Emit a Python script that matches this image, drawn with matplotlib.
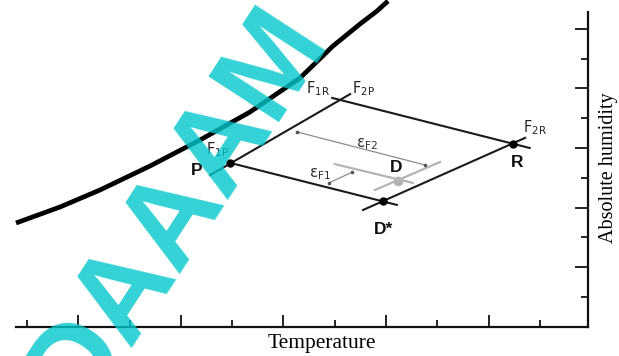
import matplotlib
matplotlib.use("Agg")
import matplotlib.pyplot as plt
import numpy as np

plt.rcParams['mathtext.fontset'] = 'custom'
plt.rcParams['mathtext.rm'] = 'Liberation Sans'
plt.rcParams['mathtext.it'] = 'Liberation Sans:italic'
plt.rcParams['mathtext.bf'] = 'Liberation Sans:bold'

# ---- data (arbitrary units: temperature t, absolute humidity h) ----
curve_t = [-0.214, 0.643, 1.423, 2.398, 3.372, 4.347, 5.322, 5.965, 6.491, 6.823, 7.037]
curve_h = [2.483, 3.020, 3.591, 4.396, 5.268, 6.208, 7.349, 8.423, 9.161, 9.597, 9.933]

# state points
point_names = ["P", "R", "D*"]
point_t = [3.96, 9.47, 6.94]
point_h = [4.50, 5.13, 3.22]
mix_t = [7.23]
mix_h = [3.89]

# process lines (start, end)
line_t = [[3.57, 6.30], [5.95, 9.80], [3.96, 7.21], [6.55, 9.71]]
line_h = [[4.09, 6.81], [6.68, 5.00], [4.50, 3.09], [2.92, 5.34]]

# grey construction lines through D
grey_t = [[6.00, 7.52], [6.78, 8.05]]
grey_h = [[4.46, 3.83], [3.59, 4.53]]

# dimension lines (epsilon F2, epsilon F1)
dim_t = [[5.26, 7.76], [5.89, 6.34]]
dim_h = [[5.54, 4.43], [3.83, 4.19]]

# tick positions
x_major = [1, 3, 5, 7, 9]
x_minor = [0, 2, 4, 6, 8, 10]
y_major = [1, 3, 5, 7, 9]
y_minor = [0, 2, 4, 6, 8]

# labels
small_labels = [r"$\mathregular{F_{1R}}$", r"$\mathregular{F_{2P}}$",
                r"$\mathregular{F_{2R}}$", r"$\mathregular{F_{1P}}$"]
small_t = [5.67, 6.55, 9.90, 3.72]
small_h = [6.98, 6.98, 5.67, 4.93]
big_labels = ["P", "R", "D", "D*"]
big_t = [3.31, 9.55, 7.19, 6.94]
big_h = [4.26, 4.53, 4.33, 2.28]
eps_labels = [r"$\mathregular{ε_{F2}}$", r"$\mathregular{ε_{F1}}$"]
eps_t = [6.63, 5.71]
eps_h = [5.13, 4.13]

watermark = "DAAAM"

# ---- figure ----
fig = plt.figure(figsize=(6.19, 3.56), dpi=100)
ax = fig.add_axes([0, 0, 1, 1])
ax.set_facecolor("white")
ax.set_xlim(-27 / 51.3, 592 / 51.3)
ax.set_ylim((297 - 356) / 29.8, 297 / 29.8)

x_left, x_right = -0.214, 10.94
y_bot, y_top = -1.007, 9.564

for s in ["top", "left"]:
    ax.spines[s].set_visible(False)
ax.spines["bottom"].set_position(("data", y_bot))
ax.spines["bottom"].set_bounds(x_left, x_right)
ax.spines["right"].set_position(("data", x_right))
ax.spines["right"].set_bounds(y_bot, y_top)
for s in ["bottom", "right"]:
    ax.spines[s].set_linewidth(1.6)
    ax.spines[s].set_color("#111111")

ax.xaxis.set_ticks_position("bottom")
ax.yaxis.set_ticks_position("right")
ax.set_xticks(x_major)
ax.set_xticks(x_minor, minor=True)
ax.set_yticks(y_major)
ax.set_yticks(y_minor, minor=True)
ax.tick_params(axis="x", which="major", direction="in", length=8.6, width=1.3, color="#111111", labelbottom=False)
ax.tick_params(axis="x", which="minor", direction="in", length=5.0, width=1.3, color="#111111", labelbottom=False)
ax.tick_params(axis="y", which="major", direction="in", length=9.4, width=1.3, color="#111111", labelright=False, labelleft=False)
ax.tick_params(axis="y", which="minor", direction="in", length=5.0, width=1.3, color="#111111", labelright=False, labelleft=False)

# saturation curve
ax.plot(curve_t, curve_h, color="black", lw=3.4, solid_capstyle="butt", clip_on=False, zorder=3)

# process lines
for tt, hh in zip(line_t, line_h):
    ax.plot(tt, hh, color="#1a1a1a", lw=1.5, zorder=3)
for tt, hh in zip(grey_t, grey_h):
    ax.plot(tt, hh, color="#b4b4b4", lw=1.6, zorder=2)
for tt, hh in zip(dim_t, dim_h):
    ax.plot(tt, hh, color="#8c8c8c", lw=0.9, zorder=2)
    ax.plot(tt, hh, "o", color="#555555", ms=1.6, zorder=2)

ax.plot(point_t, point_h, "o", color="black", ms=5, zorder=4)
ax.plot(mix_t, mix_h, "o", color="#b4b4b4", ms=6, zorder=4)

# labels
for lab, tt, hh in zip(small_labels, small_t, small_h):
    ax.text(tt, hh, lab, fontsize=10.5, color="#222222", ha="center", va="center", zorder=5)
for lab, tt, hh in zip(big_labels, big_t, big_h):
    ax.text(tt, hh, lab, fontsize=12.5, fontweight="bold", family="Liberation Sans",
            color="#111111", ha="center", va="center", zorder=5)
for lab, tt, hh in zip(eps_labels, eps_t, eps_h):
    ax.text(tt, hh, lab, fontsize=11, color="#333333", ha="center", va="center", zorder=5)

ax.text(5.75, -1.577, "Temperature", family="Liberation Serif", fontsize=15.5,
        ha="center", va="center", color="black")
ax.text(11.33, 4.33, "Absolute humidity", family="Liberation Serif", fontsize=14.5,
        rotation=90, ha="center", va="center", color="black")

# watermark
ax.text(1.03, -4.02, watermark, family="Liberation Sans", fontweight="bold", fontsize=88,
        rotation=57, rotation_mode="anchor", ha="left", va="baseline",
        color=(0.0, 0.78, 0.80), alpha=0.8, zorder=10, clip_on=False)

fig.savefig("out.png", dpi=100)
